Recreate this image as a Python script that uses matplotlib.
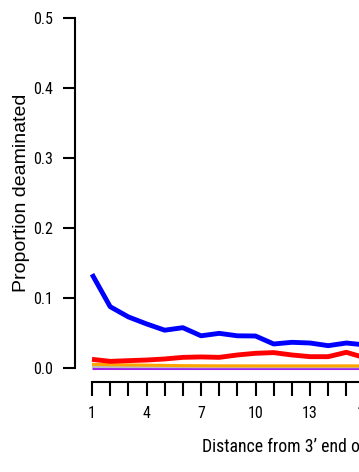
import matplotlib
matplotlib.use("Agg")
import matplotlib.pyplot as plt
from matplotlib import font_manager
import numpy as np

# Data (positions from 3' end; the reference is cropped at the right)
positions = list(range(1, 17))
g_to_a = [0.134, 0.0876, 0.073, 0.063, 0.054, 0.0576, 0.046, 0.0495, 0.046, 0.0457,
          0.0343, 0.0367, 0.0357, 0.0319, 0.0357, 0.033]
c_to_t = [0.0124, 0.0095, 0.0105, 0.0114, 0.0129, 0.0152, 0.0158, 0.0152, 0.0186, 0.021,
          0.022, 0.0186, 0.0162, 0.0162, 0.0224, 0.0148]
other1 = [0.0053, 0.0048, 0.0044, 0.0041, 0.0037, 0.0034, 0.0032, 0.0031, 0.0031, 0.0030,
          0.0030, 0.0030, 0.0030, 0.0030, 0.0031, 0.0030]
other2 = [0.0020, 0.0019, 0.0018, 0.0018, 0.0017, 0.0017, 0.0016, 0.0016, 0.0016, 0.0016,
          0.0016, 0.0016, 0.0016, 0.0016, 0.0016, 0.0016]
other3 = [0.0, 0.0, 0.0, 0.0, 0.0, 0.0, 0.0, 0.0, 0.0, 0.0, 0.0, 0.0, 0.0, 0.0, 0.0, 0.0]

xticks = list(range(1, 26))
xtick_labels = [str(v) if (v - 1) % 3 == 0 else "" for v in xticks]
yticks = [0.0, 0.1, 0.2, 0.3, 0.4, 0.5]
ytick_labels = ["0.0", "0.1", "0.2", "0.3", "0.4", "0.5"]

installed = {f.name for f in font_manager.fontManager.ttflist}
condensed = None
for cand in ["Liberation Sans Narrow", "Roboto Condensed", "Open Sans Condensed", "DejaVu Sans Condensed"]:
    if cand in installed:
        condensed = cand
        break
regular = ["Liberation Sans", "DejaVu Sans"]
if condensed is not None:
    narrow = [condensed, "DejaVu Sans"]
    tick_fs, xlab_fs = 11.5, 12.8
else:
    narrow = regular
    tick_fs, xlab_fs = 10, 11.3

W, H = 359, 472
fig = plt.figure(figsize=(W / 100, H / 100), dpi=100)

left_px, right_px = 75, 555
top_px, bottom_px = 5, 381.5
ax = fig.add_axes([left_px / W, (H - bottom_px) / H, (right_px - left_px) / W, (bottom_px - top_px) / H])
ax.patch.set_alpha(0)

px_per_x = 18.17
x0 = 1 - (92 - left_px) / px_per_x
ax.set_xlim(x0, x0 + (right_px - left_px) / px_per_x)
ax.set_ylim(-(bottom_px - 368) / 700, 0.5 + (18 - top_px) / 700)

ax.plot(positions, other3, color="#A020F0", lw=2.2, solid_capstyle="butt", zorder=2)
ax.plot(positions, other2, color="#BEBEBE", lw=2.0, solid_capstyle="butt", zorder=2)
ax.plot(positions, other1, color="#FFA500", lw=2.2, solid_capstyle="butt", zorder=2)
ax.plot(positions, g_to_a, color="#0000FF", lw=3.5, solid_capstyle="butt", zorder=3)
ax.plot(positions, c_to_t, color="#FF0000", lw=3.5, solid_capstyle="butt", zorder=4)

for s in ["top", "right"]:
    ax.spines[s].set_visible(False)
ax.spines["left"].set_bounds(0, 0.5)
ax.spines["bottom"].set_bounds(1, 25)
ax.spines["left"].set_linewidth(1.5)
ax.spines["bottom"].set_linewidth(1.5)

ax.set_xticks(xticks)
ax.set_xticklabels(xtick_labels, fontsize=tick_fs, family=narrow)
ax.set_yticks(yticks)
ax.set_yticklabels(ytick_labels, fontsize=tick_fs, family=narrow)
ax.tick_params(axis="x", direction="out", length=10, width=1.5, pad=8)
ax.tick_params(axis="y", direction="out", length=9, width=1.5, pad=7)

fig.text(22 / W, 1 - 193 / H, "Proportion deaminated", rotation=90, ha="center", va="center",
         fontsize=14, family=regular)
fig.text(202 / W, (H - 451.7) / H, "Distance from 3\u2019 end of read", ha="left", va="baseline",
         fontsize=xlab_fs, family=narrow)

fig.savefig("out.png", dpi=100)
